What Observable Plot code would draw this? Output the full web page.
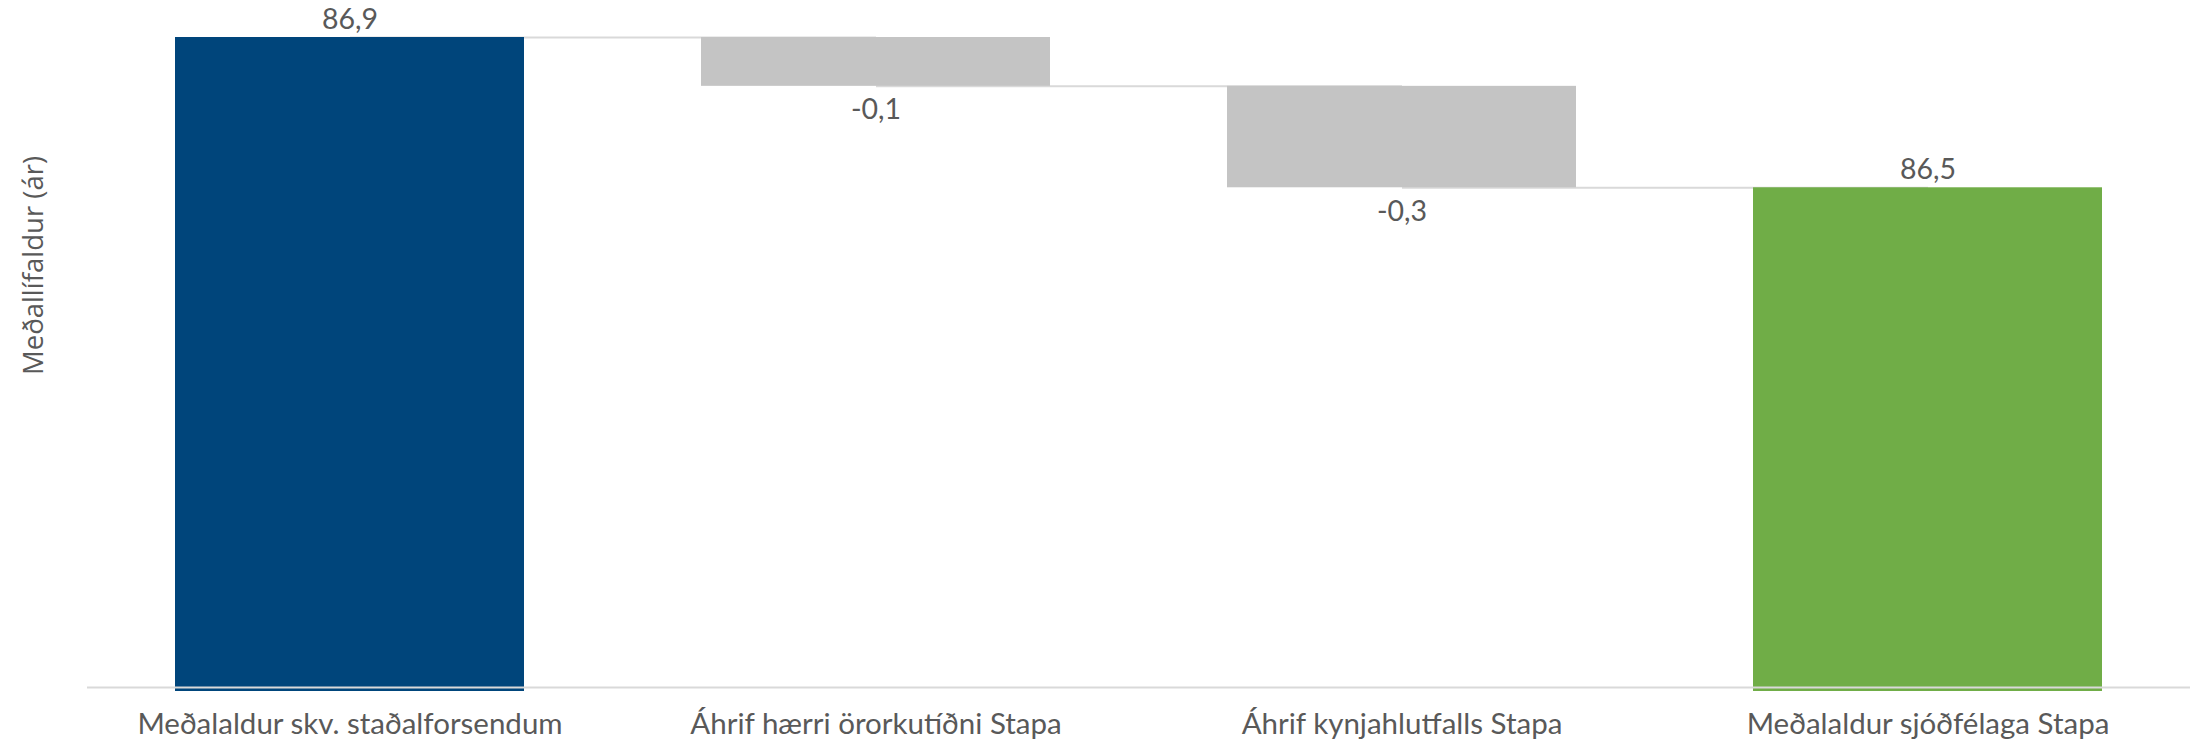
<!DOCTYPE html>
<html>
<head>
<meta charset="utf-8">
<script src="https://cdn.jsdelivr.net/npm/d3@7"></script>
<script src="https://cdn.jsdelivr.net/npm/@observablehq/plot@0.6"></script>
<style>
  html, body { margin: 0; padding: 0; background: #ffffff; }
  #chart { width: 2190px; height: 742px; }
</style>
</head>
<body>
<div id="chart"></div>
<script>
// ---- data ----
const categories = [
  "Meðalaldur skv. staðalforsendum",
  "Áhrif hærri örorkutíðni Stapa",
  "Áhrif kynjahlutfalls Stapa",
  "Meðalaldur sjóðfélaga Stapa"
];
const kinds = ["total", "delta", "delta", "total"];
const values = [86.9, -0.13, -0.27, 86.5];
const valueLabels = ["86,9", "-0,1", "-0,3", "86,5"];
const yAxisTitle = "Meðallífaldur (ár)";
const yMin = 85.17;   // where the (cut) value axis starts
const yMax = 86.9;

// ---- styles ----
const colors = { first: "#00457b", delta: "#c4c4c4", last: "#70ad47" };
const textColor = "#595959";

// ---- build waterfall table ----
let level = 0;
const rows = categories.map((cat, i) => {
  let lo, hi;
  if (kinds[i] === "total") {
    lo = yMin; hi = values[i]; level = values[i];
  } else {
    hi = level; lo = level + values[i]; level = lo;
  }
  const fill = kinds[i] === "delta" ? colors.delta : (i === 0 ? colors.first : colors.last);
  return { cat, lo, hi, fill, label: valueLabels[i], kind: kinds[i], level };
});
const connectors = rows.slice(0, -1).map((r, i) => ({ from: r.cat, to: rows[i + 1].cat, y: r.level }));
const totals = rows.filter(r => r.kind === "total");
const deltas = rows.filter(r => r.kind === "delta");

const chart = Plot.plot({
  width: 2190,
  height: 742,
  marginLeft: 87,
  marginRight: 0,
  marginTop: 37,
  marginBottom: 55,
  style: { fontFamily: "Lato, 'Open Sans', sans-serif", color: textColor, background: "#ffffff" },
  x: { domain: categories, paddingInner: 0.336, paddingOuter: 0.167, label: null },
  y: { domain: [yMin, yMax], axis: null },
  marks: [
    Plot.link(connectors, { x1: "from", x2: "to", y1: "y", y2: "y", stroke: "#d9d9d9", strokeWidth: 2 }),
    Plot.barY(totals, { x: "cat", y1: "lo", y2: "hi", fill: "fill", insetBottom: -4 }),
    Plot.barY(deltas, { x: "cat", y1: "lo", y2: "hi", fill: "fill" }),
    Plot.ruleY([yMin], { stroke: "#d9d9d9", strokeWidth: 2 }),
    Plot.text(totals, { x: "cat", y: "hi", text: "label", dy: -18, lineAnchor: "middle", fontSize: 28.5, fill: textColor }),
    Plot.text(deltas, { x: "cat", y: "lo", text: "label", dy: 24, lineAnchor: "middle", fontSize: 28.5, fill: textColor }),
    Plot.axisX({ tickSize: 0, tickPadding: 26, fontSize: 29.5, fill: textColor, label: null }),
    Plot.text([yAxisTitle], { frameAnchor: "top-left", dx: -53, dy: 228, rotate: -90, textAnchor: "middle", lineAnchor: "middle", fontSize: 27.5, fontFamily: "'Open Sans', sans-serif", fill: textColor })
  ]
});
document.getElementById("chart").appendChild(chart);
</script>
</body>
</html>
